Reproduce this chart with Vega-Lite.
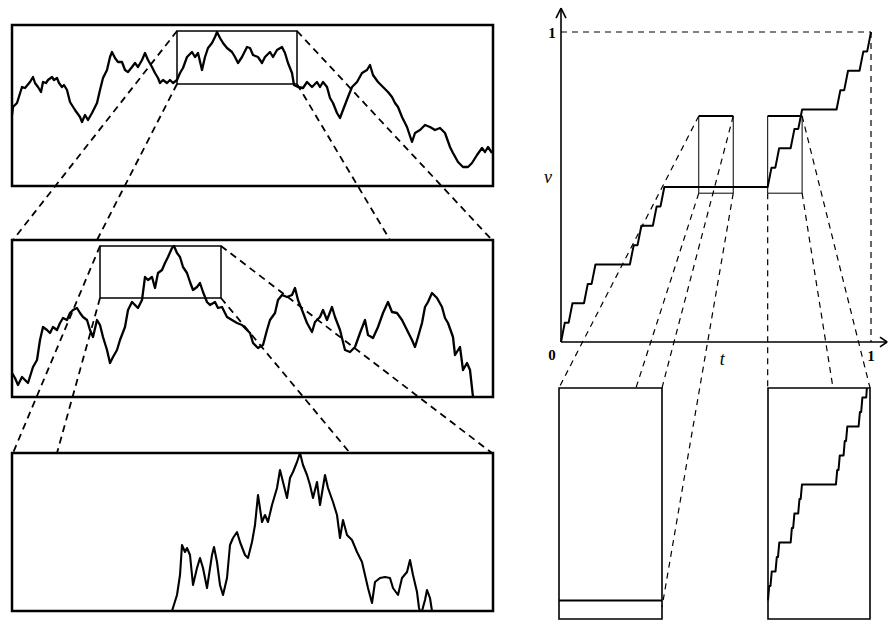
{
  "$schema": "https://vega.github.io/schema/vega-lite/v6.json",
  "width": 892,
  "height": 621,
  "padding": 0,
  "autosize": "none",
  "background": "white",
  "config": {"view": {"stroke": null}},
  "datasets": {
    "top": [{"t":0,"b":71},{"t":1,"b":79},{"t":5,"b":83},{"t":10,"b":99},{"t":13,"b":98},{"t":18,"b":104},{"t":21,"b":109},{"t":23,"b":103},{"t":26,"b":99},{"t":29,"b":94},{"t":31,"b":104},{"t":34,"b":103},{"t":36,"b":106},{"t":40,"b":109},{"t":42,"b":106},{"t":45,"b":108},{"t":47,"b":103},{"t":50,"b":99},{"t":52,"b":101},{"t":55,"b":96},{"t":58,"b":84},{"t":63,"b":76},{"t":68,"b":69},{"t":70,"b":64},{"t":73,"b":71},{"t":76,"b":66},{"t":80,"b":73},{"t":85,"b":83},{"t":88,"b":96},{"t":91,"b":108},{"t":95,"b":116},{"t":98,"b":129},{"t":100,"b":134},{"t":103,"b":128},{"t":106,"b":124},{"t":110,"b":124},{"t":113,"b":116},{"t":116,"b":114},{"t":120,"b":119},{"t":123,"b":123},{"t":126,"b":119},{"t":130,"b":126},{"t":133,"b":133},{"t":136,"b":126},{"t":140,"b":119},{"t":143,"b":113},{"t":146,"b":108},{"t":148,"b":103},{"t":151,"b":106},{"t":155,"b":103},{"t":158,"b":106},{"t":161,"b":103},{"t":165,"b":106},{"t":168,"b":113},{"t":171,"b":118},{"t":175,"b":129},{"t":180,"b":134},{"t":183,"b":129},{"t":186,"b":133},{"t":190,"b":116},{"t":193,"b":129},{"t":196,"b":138},{"t":200,"b":143},{"t":203,"b":149},{"t":205,"b":154},{"t":208,"b":148},{"t":211,"b":143},{"t":215,"b":138},{"t":220,"b":134},{"t":223,"b":129},{"t":226,"b":123},{"t":230,"b":129},{"t":235,"b":139},{"t":238,"b":138},{"t":241,"b":131},{"t":246,"b":129},{"t":250,"b":123},{"t":253,"b":129},{"t":258,"b":134},{"t":261,"b":129},{"t":265,"b":136},{"t":270,"b":139},{"t":273,"b":133},{"t":276,"b":123},{"t":280,"b":113},{"t":282,"b":101},{"t":286,"b":99},{"t":291,"b":98},{"t":295,"b":104},{"t":300,"b":99},{"t":305,"b":104},{"t":308,"b":99},{"t":311,"b":104},{"t":315,"b":99},{"t":318,"b":88},{"t":321,"b":83},{"t":325,"b":73},{"t":328,"b":68},{"t":331,"b":76},{"t":336,"b":89},{"t":340,"b":99},{"t":345,"b":104},{"t":350,"b":113},{"t":355,"b":116},{"t":358,"b":121},{"t":361,"b":111},{"t":366,"b":104},{"t":371,"b":99},{"t":376,"b":94},{"t":380,"b":89},{"t":383,"b":83},{"t":386,"b":79},{"t":390,"b":69},{"t":395,"b":59},{"t":400,"b":44},{"t":403,"b":53},{"t":408,"b":56},{"t":413,"b":61},{"t":418,"b":59},{"t":423,"b":56},{"t":428,"b":58},{"t":433,"b":53},{"t":438,"b":39},{"t":441,"b":33},{"t":446,"b":24},{"t":451,"b":19},{"t":456,"b":19},{"t":460,"b":23},{"t":465,"b":31},{"t":470,"b":38},{"t":473,"b":34},{"t":476,"b":39},{"t":480,"b":33}],
    "mid": [{"t":0,"b":24},{"t":3,"b":19},{"t":6,"b":12},{"t":10,"b":20},{"t":13,"b":17},{"t":16,"b":14},{"t":21,"b":30},{"t":25,"b":37},{"t":28,"b":57},{"t":31,"b":70},{"t":35,"b":67},{"t":38,"b":64},{"t":41,"b":70},{"t":45,"b":67},{"t":48,"b":74},{"t":51,"b":79},{"t":55,"b":77},{"t":58,"b":84},{"t":61,"b":87},{"t":65,"b":89},{"t":68,"b":84},{"t":71,"b":80},{"t":75,"b":77},{"t":78,"b":67},{"t":81,"b":60},{"t":85,"b":77},{"t":88,"b":72},{"t":91,"b":60},{"t":95,"b":47},{"t":98,"b":34},{"t":101,"b":40},{"t":105,"b":47},{"t":108,"b":57},{"t":113,"b":70},{"t":116,"b":87},{"t":120,"b":95},{"t":123,"b":92},{"t":126,"b":89},{"t":130,"b":97},{"t":133,"b":120},{"t":136,"b":117},{"t":140,"b":120},{"t":143,"b":109},{"t":146,"b":124},{"t":150,"b":127},{"t":153,"b":134},{"t":156,"b":140},{"t":160,"b":149},{"t":162,"b":151},{"t":165,"b":144},{"t":168,"b":140},{"t":171,"b":130},{"t":175,"b":124},{"t":178,"b":115},{"t":181,"b":107},{"t":185,"b":110},{"t":188,"b":114},{"t":191,"b":105},{"t":195,"b":95},{"t":198,"b":92},{"t":203,"b":95},{"t":206,"b":89},{"t":210,"b":90},{"t":215,"b":80},{"t":220,"b":77},{"t":225,"b":74},{"t":230,"b":72},{"t":235,"b":67},{"t":238,"b":64},{"t":241,"b":54},{"t":246,"b":49},{"t":251,"b":52},{"t":255,"b":67},{"t":258,"b":77},{"t":263,"b":84},{"t":266,"b":97},{"t":270,"b":102},{"t":275,"b":100},{"t":280,"b":102},{"t":283,"b":109},{"t":286,"b":97},{"t":290,"b":87},{"t":295,"b":74},{"t":300,"b":65},{"t":303,"b":75},{"t":308,"b":80},{"t":311,"b":87},{"t":315,"b":77},{"t":320,"b":90},{"t":323,"b":80},{"t":328,"b":67},{"t":333,"b":47},{"t":338,"b":45},{"t":343,"b":50},{"t":348,"b":64},{"t":353,"b":77},{"t":356,"b":62},{"t":361,"b":59},{"t":366,"b":70},{"t":371,"b":84},{"t":376,"b":95},{"t":380,"b":85},{"t":385,"b":84},{"t":390,"b":77},{"t":395,"b":67},{"t":400,"b":57},{"t":403,"b":50},{"t":406,"b":60},{"t":410,"b":74},{"t":413,"b":90},{"t":416,"b":95},{"t":420,"b":104},{"t":425,"b":99},{"t":430,"b":90},{"t":433,"b":79},{"t":436,"b":74},{"t":441,"b":60},{"t":443,"b":42},{"t":448,"b":50},{"t":451,"b":27},{"t":455,"b":34},{"t":458,"b":27},{"t":461,"b":0}],
    "bot": [{"t":160,"b":0},{"t":165,"b":16},{"t":168,"b":36},{"t":170,"b":66},{"t":173,"b":59},{"t":175,"b":63},{"t":178,"b":56},{"t":181,"b":26},{"t":185,"b":43},{"t":188,"b":53},{"t":191,"b":43},{"t":195,"b":23},{"t":200,"b":56},{"t":202,"b":64},{"t":205,"b":49},{"t":208,"b":26},{"t":211,"b":16},{"t":215,"b":33},{"t":218,"b":66},{"t":221,"b":73},{"t":225,"b":79},{"t":228,"b":69},{"t":233,"b":56},{"t":236,"b":53},{"t":240,"b":69},{"t":243,"b":86},{"t":246,"b":116},{"t":250,"b":89},{"t":253,"b":96},{"t":256,"b":89},{"t":260,"b":106},{"t":265,"b":123},{"t":268,"b":141},{"t":271,"b":129},{"t":275,"b":113},{"t":278,"b":133},{"t":281,"b":139},{"t":285,"b":149},{"t":288,"b":158},{"t":291,"b":146},{"t":295,"b":136},{"t":298,"b":126},{"t":301,"b":113},{"t":305,"b":129},{"t":308,"b":106},{"t":313,"b":136},{"t":316,"b":123},{"t":321,"b":109},{"t":325,"b":96},{"t":328,"b":73},{"t":331,"b":91},{"t":335,"b":76},{"t":340,"b":71},{"t":345,"b":59},{"t":350,"b":49},{"t":353,"b":36},{"t":356,"b":23},{"t":360,"b":8},{"t":363,"b":29},{"t":368,"b":33},{"t":373,"b":34},{"t":378,"b":33},{"t":381,"b":23},{"t":386,"b":16},{"t":390,"b":33},{"t":395,"b":39},{"t":398,"b":51},{"t":401,"b":36},{"t":405,"b":19},{"t":407,"b":3},{"t":408,"b":0},{"t":410,"b":0},{"t":413,"b":11},{"t":415,"b":21},{"t":418,"b":13},{"t":420,"b":0}],
    "stair": [{"t":0,"v":0},{"t":0.0123,"v":0.0625},{"t":0.0247,"v":0.0625},{"t":0.037,"v":0.125},{"t":0.0741,"v":0.125},{"t":0.0864,"v":0.1875},{"t":0.0988,"v":0.1875},{"t":0.1111,"v":0.25},{"t":0.2222,"v":0.25},{"t":0.2346,"v":0.3125},{"t":0.2469,"v":0.3125},{"t":0.2593,"v":0.375},{"t":0.2963,"v":0.375},{"t":0.3086,"v":0.4375},{"t":0.321,"v":0.4375},{"t":0.3333,"v":0.5},{"t":0.6667,"v":0.5},{"t":0.679,"v":0.5625},{"t":0.6914,"v":0.5625},{"t":0.7037,"v":0.625},{"t":0.7407,"v":0.625},{"t":0.7531,"v":0.6875},{"t":0.7654,"v":0.6875},{"t":0.7778,"v":0.75},{"t":0.8889,"v":0.75},{"t":0.9012,"v":0.8125},{"t":0.9136,"v":0.8125},{"t":0.9259,"v":0.875},{"t":0.963,"v":0.875},{"t":0.9753,"v":0.9375},{"t":0.9877,"v":0.9375},{"t":1,"v":1}],
    "stairZoom": [{"t":0.6667,"v":0.5},{"t":0.668,"v":0.5156},{"t":0.6694,"v":0.5156},{"t":0.6708,"v":0.5313},{"t":0.6749,"v":0.5313},{"t":0.6763,"v":0.5469},{"t":0.6776,"v":0.5469},{"t":0.679,"v":0.5625},{"t":0.6914,"v":0.5625},{"t":0.6927,"v":0.5781},{"t":0.6941,"v":0.5781},{"t":0.6955,"v":0.5938},{"t":0.6996,"v":0.5938},{"t":0.701,"v":0.6094},{"t":0.7023,"v":0.6094},{"t":0.7037,"v":0.625},{"t":0.7407,"v":0.625},{"t":0.7421,"v":0.6406},{"t":0.7435,"v":0.6406},{"t":0.7449,"v":0.6563},{"t":0.749,"v":0.6563},{"t":0.7503,"v":0.6719},{"t":0.7517,"v":0.6719},{"t":0.7531,"v":0.6875},{"t":0.7654,"v":0.6875},{"t":0.7668,"v":0.7031},{"t":0.7682,"v":0.7031},{"t":0.7695,"v":0.7188},{"t":0.7737,"v":0.7188},{"t":0.7744,"v":0.729}]
  },
  "layer": [
    {
      "encoding": {
        "x": {"field": "t", "type": "quantitative", "scale": {"domain": [0, 481], "range": [12, 493], "nice": false, "zero": false}, "axis": null},
        "y": {"field": "b", "type": "quantitative", "scale": {"domain": [0, 161], "range": [186, 25], "nice": false, "zero": false}, "axis": null}
      },
      "layer": [
        {"data": {"name": "top"}, "mark": {"type": "line", "color": "black", "strokeWidth": 2.3, "strokeJoin": "round"}},
        {"data": {"values": [{"t": 0, "t2": 481, "b": 0, "b2": 161}]}, "mark": {"type": "rect", "fill": "transparent", "stroke": "black", "strokeWidth": 2.5}, "encoding": {"x2": {"field": "t2"}, "y2": {"field": "b2"}}},
        {"data": {"values": [{"t": 165, "t2": 285, "b": 102, "b2": 155}]}, "mark": {"type": "rect", "fill": "transparent", "stroke": "black", "strokeWidth": 1.5}, "encoding": {"x2": {"field": "t2"}, "y2": {"field": "b2"}}},
        {"data": {"values": [{"t": 165, "b": 155, "t2": 1, "b2": -54}, {"t": 165, "b": 102, "t2": 85, "b2": -54}, {"t": 285, "b": 155, "t2": 480, "b2": -54}, {"t": 285, "b": 102, "t2": 378, "b2": -54}]}, "mark": {"type": "rule", "color": "black", "strokeWidth": 1.8, "strokeDash": [7, 5]}, "encoding": {"x2": {"field": "t2"}, "y2": {"field": "b2"}}}
      ]
    },
    {
      "encoding": {
        "x": {"field": "t", "type": "quantitative", "scale": {"domain": [0, 481], "range": [12, 493], "nice": false, "zero": false}, "axis": null},
        "y": {"field": "b", "type": "quantitative", "scale": {"domain": [0, 157], "range": [397, 240], "nice": false, "zero": false}, "axis": null}
      },
      "layer": [
        {"data": {"name": "mid"}, "mark": {"type": "line", "color": "black", "strokeWidth": 2.3, "strokeJoin": "round"}},
        {"data": {"values": [{"t": 0, "t2": 481, "b": 0, "b2": 157}]}, "mark": {"type": "rect", "fill": "transparent", "stroke": "black", "strokeWidth": 2.5}, "encoding": {"x2": {"field": "t2"}, "y2": {"field": "b2"}}},
        {"data": {"values": [{"t": 88, "t2": 209, "b": 99, "b2": 151}]}, "mark": {"type": "rect", "fill": "transparent", "stroke": "black", "strokeWidth": 1.5}, "encoding": {"x2": {"field": "t2"}, "y2": {"field": "b2"}}},
        {"data": {"values": [{"t": 88, "b": 151, "t2": 1, "b2": -56}, {"t": 88, "b": 99, "t2": 45, "b2": -56}, {"t": 209, "b": 151, "t2": 480, "b2": -56}, {"t": 209, "b": 99, "t2": 338, "b2": -56}]}, "mark": {"type": "rule", "color": "black", "strokeWidth": 1.8, "strokeDash": [7, 5]}, "encoding": {"x2": {"field": "t2"}, "y2": {"field": "b2"}}}
      ]
    },
    {
      "encoding": {
        "x": {"field": "t", "type": "quantitative", "scale": {"domain": [0, 481], "range": [12, 493], "nice": false, "zero": false}, "axis": null},
        "y": {"field": "b", "type": "quantitative", "scale": {"domain": [0, 158], "range": [611, 453], "nice": false, "zero": false}, "axis": null}
      },
      "layer": [
        {"data": {"name": "bot"}, "mark": {"type": "line", "color": "black", "strokeWidth": 2.1, "strokeJoin": "round"}},
        {"data": {"values": [{"t": 0, "t2": 481, "b": 0, "b2": 158}]}, "mark": {"type": "rect", "fill": "transparent", "stroke": "black", "strokeWidth": 2.5}, "encoding": {"x2": {"field": "t2"}, "y2": {"field": "b2"}}}
      ]
    },
    {
      "encoding": {
        "x": {"field": "t", "type": "quantitative", "scale": {"domain": [0, 1], "range": [561, 871], "nice": false, "zero": false}, "axis": null},
        "y": {"field": "v", "type": "quantitative", "scale": {"domain": [0, 1], "range": [342, 32], "nice": false, "zero": false}, "axis": null}
      },
      "layer": [
        {"data": {"name": "stair"}, "mark": {"type": "line", "color": "black", "strokeWidth": 2, "strokeJoin": "round"}},
        {"data": {"values": [{"t": 0, "v": 0, "t2": 0, "v2": 1.077}, {"t": 0, "v": 0, "t2": 1.052, "v2": 0}, {"t": -0.016, "v": 1.045, "t2": 0, "v2": 1.077}, {"t": 0.016, "v": 1.045, "t2": 0, "v2": 1.077}, {"t": 1.029, "v": 0.016, "t2": 1.052, "v2": 0}, {"t": 1.029, "v": -0.016, "t2": 1.052, "v2": 0}]}, "mark": {"type": "rule", "color": "black", "strokeWidth": 1.6}, "encoding": {"x2": {"field": "t2"}, "y2": {"field": "v2"}}},
        {"data": {"values": [{"t": 0.4444, "t2": 0.5556, "v": 0.48, "v2": 0.729}, {"t": 0.6667, "t2": 0.7778, "v": 0.48, "v2": 0.729}]}, "mark": {"type": "rect", "fill": "transparent", "stroke": "black", "strokeWidth": 1}, "encoding": {"x2": {"field": "t2"}, "y2": {"field": "v2"}}},
        {"data": {"values": [{"t": 0.4444, "v": 0.729, "t2": 0.5556, "v2": 0.729}, {"t": 0.6667, "v": 0.729, "t2": 0.7778, "v2": 0.729}]}, "mark": {"type": "rule", "color": "black", "strokeWidth": 2}, "encoding": {"x2": {"field": "t2"}, "y2": {"field": "v2"}}},
        {"data": {"values": [{"t": 0, "v": 1, "t2": 1, "v2": 1}, {"t": 1, "v": 1, "t2": 1, "v2": 0}, {"t": 0.4444, "v": 0.729, "t2": -0.0065, "v2": -0.148}, {"t": 0.5556, "v": 0.729, "t2": 0.3258, "v2": -0.148}, {"t": 0.4444, "v": 0.48, "t2": 0.2419, "v2": -0.148}, {"t": 0.5556, "v": 0.48, "t2": 0.3258, "v2": -0.855}, {"t": 0.6667, "v": 0.48, "t2": 0.6667, "v2": -0.148}, {"t": 0.7778, "v": 0.729, "t2": 0.9968, "v2": -0.148}, {"t": 0.7778, "v": 0.48, "t2": 0.8774, "v2": -0.148}]}, "mark": {"type": "rule", "color": "black", "strokeWidth": 1.2, "strokeDash": [6, 5]}, "encoding": {"x2": {"field": "t2"}, "y2": {"field": "v2"}}},
        {"data": {"values": [{"t": -0.029, "v": 0.997, "label": "1"}, {"t": -0.029, "v": -0.042, "label": "0"}, {"t": 1.0, "v": -0.045, "label": "1"}]}, "mark": {"type": "text", "font": "Liberation Serif", "fontSize": 15, "fontWeight": "bold", "align": "center", "baseline": "middle", "color": "black"}, "encoding": {"text": {"field": "label"}}},
        {"data": {"values": [{"t": 0.52, "v": -0.058, "label": "t"}, {"t": -0.042, "v": 0.53, "label": "v"}]}, "mark": {"type": "text", "font": "Liberation Serif", "fontSize": 18, "fontStyle": "italic", "align": "center", "baseline": "middle", "color": "black"}, "encoding": {"text": {"field": "label"}}}
      ]
    },
    {
      "encoding": {
        "x": {"field": "t", "type": "quantitative", "scale": {"domain": [0.4444, 0.5556], "range": [559, 662], "nice": false, "zero": false}, "axis": null},
        "y": {"field": "v", "type": "quantitative", "scale": {"domain": [0.48, 0.729], "range": [619, 388], "nice": false, "zero": false}, "axis": null}
      },
      "layer": [
        {"data": {"values": [{"t": 0.4444, "t2": 0.5556, "v": 0.48, "v2": 0.729}]}, "mark": {"type": "rect", "fill": "transparent", "stroke": "black", "strokeWidth": 1.6}, "encoding": {"x2": {"field": "t2"}, "y2": {"field": "v2"}}},
        {"data": {"values": [{"t": 0.4444, "v": 0.5, "t2": 0.5556, "v2": 0.5}]}, "mark": {"type": "rule", "color": "black", "strokeWidth": 2}, "encoding": {"x2": {"field": "t2"}, "y2": {"field": "v2"}}}
      ]
    },
    {
      "encoding": {
        "x": {"field": "t", "type": "quantitative", "scale": {"domain": [0.6667, 0.7778], "range": [768, 870], "nice": false, "zero": false}, "axis": null},
        "y": {"field": "v", "type": "quantitative", "scale": {"domain": [0.48, 0.729], "range": [619, 388], "nice": false, "zero": false}, "axis": null}
      },
      "layer": [
        {"data": {"values": [{"t": 0.6667, "t2": 0.7778, "v": 0.48, "v2": 0.729}]}, "mark": {"type": "rect", "fill": "transparent", "stroke": "black", "strokeWidth": 1.6}, "encoding": {"x2": {"field": "t2"}, "y2": {"field": "v2"}}},
        {"data": {"name": "stairZoom"}, "mark": {"type": "line", "color": "black", "strokeWidth": 2, "strokeJoin": "round"}}
      ]
    }
  ],
  "resolve": {"scale": {"x": "independent", "y": "independent"}}
}
